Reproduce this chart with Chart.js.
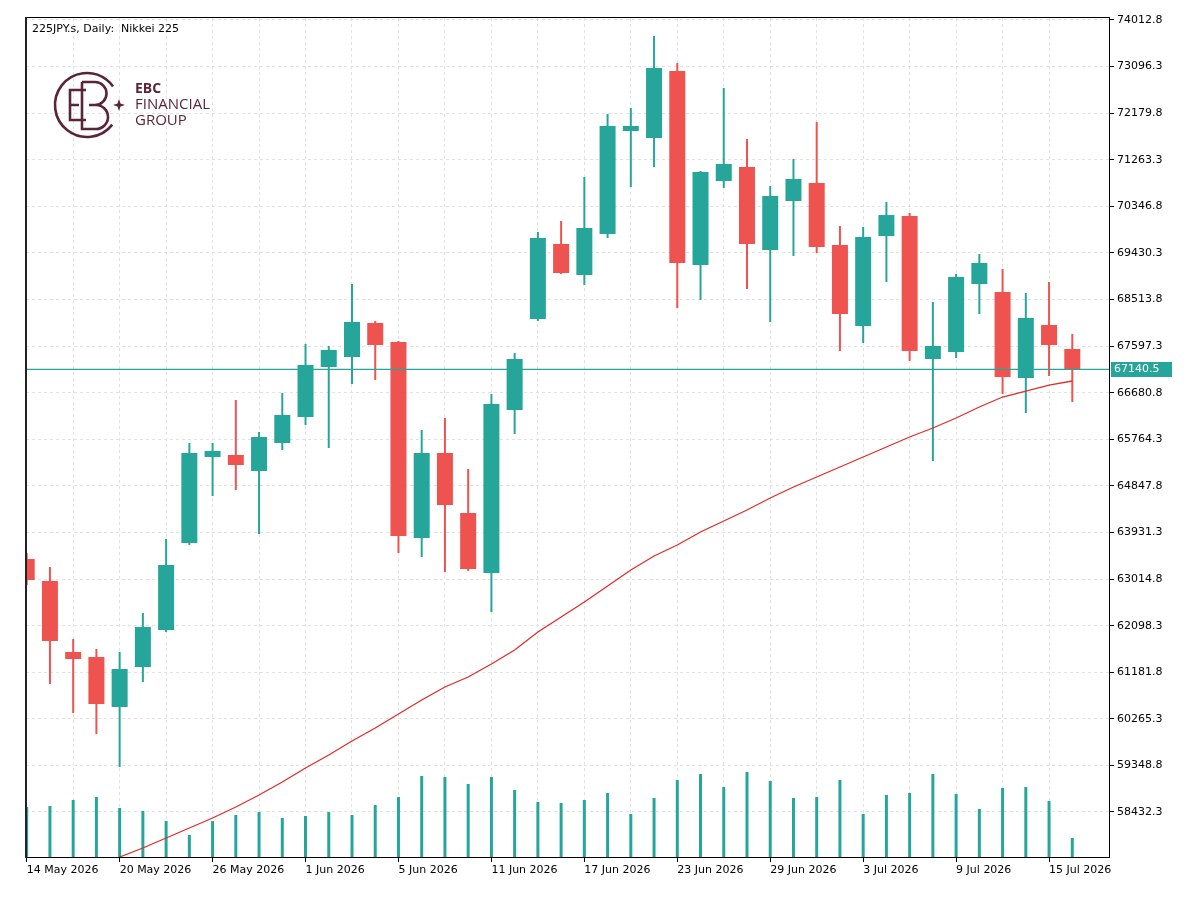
<!DOCTYPE html>
<html>
<head>
<meta charset="utf-8">
<title>225JPY.s Daily</title>
<script src="https://cdn.jsdelivr.net/npm/chart.js@4.4.1/dist/chart.umd.min.js"></script>
<style>
  html, body { margin: 0; padding: 0; background: #fff; }
  canvas { display: block; }
</style>
</head>
<body>
<canvas id="priceChart" width="1200" height="903"></canvas>
<script>
const dates = [
  "14 May 2026", "15 May 2026", "18 May 2026", "19 May 2026", "20 May 2026", "21 May 2026",
  "22 May 2026", "25 May 2026", "26 May 2026", "27 May 2026", "28 May 2026", "29 May 2026",
  "1 Jun 2026", "2 Jun 2026", "3 Jun 2026", "4 Jun 2026", "5 Jun 2026", "8 Jun 2026",
  "9 Jun 2026", "10 Jun 2026", "11 Jun 2026", "12 Jun 2026", "15 Jun 2026", "16 Jun 2026",
  "17 Jun 2026", "18 Jun 2026", "19 Jun 2026", "22 Jun 2026", "23 Jun 2026", "24 Jun 2026",
  "25 Jun 2026", "26 Jun 2026", "29 Jun 2026", "30 Jun 2026", "1 Jul 2026", "2 Jul 2026",
  "3 Jul 2026", "6 Jul 2026", "7 Jul 2026", "8 Jul 2026", "9 Jul 2026", "10 Jul 2026",
  "13 Jul 2026", "14 Jul 2026", "15 Jul 2026", "16 Jul 2026"
];

const opens = [
  63409, 62977, 61580, 61481, 60498, 61285, 62013, 63724, 65416, 65455, 65141, 65691,
  66203, 67186, 67383, 68052, 67678, 63823, 65495, 64314, 63134, 66340, 68131, 69606,
  68996, 69803, 71829, 71691, 73009, 69193, 70845, 71121, 69488, 70452, 70806, 69586,
  67993, 69763, 70157, 67344, 67481, 68819, 68662, 66970, 68013, 67541
];
const highs = [
  63527, 63252, 61836, 61639, 61580, 62347, 63803, 65691, 65691, 66537, 65908, 66675,
  67639, 67599, 68819, 68091, 67698, 65947, 66183, 65180, 66655, 67462, 69842, 70058,
  70924, 72163, 72281, 73698, 73167, 71042, 72675, 71672, 70747, 71278, 72006, 69960,
  69940, 70432, 70216, 68465, 69016, 69409, 69114, 68642, 68858, 67836
];
const lows = [
  62898, 60950, 60380, 59967, 59318, 60990, 61973, 63685, 64649, 64767, 63901, 65554,
  66045, 65593, 66852, 66931, 63527, 63449, 63154, 63173, 62367, 65868, 68091, 69016,
  68799, 69724, 70727, 71121, 68347, 68504, 70708, 68721, 68072, 69370, 69429, 67501,
  67658, 68858, 67304, 65337, 67363, 68229, 66655, 66281, 67009, 66498
];
const closes = [
  62996, 61796, 61442, 60557, 61245, 62072, 63291, 65495, 65534, 65259, 65809, 66242,
  67226, 67521, 68072, 67619, 63862, 65495, 64472, 63213, 66458, 67344, 69724, 69035,
  69921, 71927, 71927, 73068, 69232, 71022, 71180, 69606, 70550, 70885, 69547, 68229,
  69744, 70176, 67501, 67599, 68957, 69232, 66990, 68150, 67619, 67140.5
];
const maValues = [
  56760, 56937, 57134, 57350, 57547, 57724, 57921, 58118, 58314, 58531, 58767, 59023,
  59298, 59554, 59829, 60085, 60360, 60636, 60891, 61088, 61344, 61619, 61973, 62268,
  62563, 62878, 63193, 63468, 63685, 63940, 64157, 64373, 64609, 64826, 65022, 65219,
  65416, 65613, 65809, 65986, 66183, 66400, 66596, 66714, 66832, 66911
];
const volumes = [
  5000, 5100, 5700, 6000, 4900, 4600, 3600, 2200, 3600, 4200, 4500, 3900,
  4100, 4500, 4200, 5200, 6000, 8100, 8000, 7300, 8000, 6700, 5500, 5400,
  5700, 6400, 4300, 5900, 7700, 8300, 7000, 8500, 7600, 5900, 6000, 7700,
  4300, 6200, 6400, 8300, 6300, 4800, 6900, 7000, 5600, 1900
];
const yTicks = [
  58432.3, 59348.8, 60265.3, 61181.8, 62098.3, 63014.8, 63931.3, 64847.8, 65764.3,
  66680.8, 67597.3, 68513.8, 69430.3, 70346.8, 71263.3, 72179.8, 73096.3, 74012.8
];
const lastPrice = 67140.5;
const title = "225JPY.s, Daily:  Nikkei 225";

const UP = "#26a69a";
const DOWN = "#ef5350";
const GRID = "#e2e2e2";
const LOGO = "#5a2636";
const FONT = '"DejaVu Sans", Tahoma, sans-serif';

const candleColor = c => closes[c.dataIndex] >= opens[c.dataIndex] ? UP : DOWN;

const overlay = {
  id: "overlay",
  afterDraw(chart) {
    const { ctx, chartArea: a, scales: { y } } = chart;
    ctx.save();

    // frame (left edge a bit heavier, like the terminal's window border)
    ctx.strokeStyle = "#000";
    ctx.lineWidth = 1;
    ctx.strokeRect(a.left - 0.5, a.top - 0.5, a.right - a.left + 1, a.bottom - a.top + 1);
    ctx.fillStyle = "#222";
    ctx.fillRect(a.left - 1, a.top - 1, 2, a.bottom - a.top + 2);

    // title
    ctx.fillStyle = "#000";
    ctx.font = "11px " + FONT;
    ctx.textBaseline = "middle";
    ctx.textAlign = "left";
    ctx.fillText(title, 32, 29);

    // current price tag
    const py = Math.round(y.getPixelForValue(lastPrice));
    ctx.fillStyle = UP;
    ctx.fillRect(a.right + 2, py - 7, 61, 15);
    ctx.fillStyle = "#fff";
    ctx.fillText(lastPrice.toFixed(1), a.right + 5, py + 0.5);

    drawLogo(ctx);
    ctx.restore();
  }
};

function drawLogo(ctx) {
  ctx.strokeStyle = LOGO;
  ctx.fillStyle = LOGO;
  ctx.lineWidth = 2.6;
  ctx.lineJoin = "miter";

  ctx.beginPath();
  ctx.arc(87, 105, 32, 0.66, Math.PI * 2 - 0.62);
  ctx.stroke();

  // E
  ctx.beginPath();
  ctx.moveTo(86, 90); ctx.lineTo(70, 90); ctx.lineTo(70, 120); ctx.lineTo(86, 120);
  ctx.moveTo(70, 105); ctx.lineTo(79, 105);
  ctx.stroke();

  // B
  ctx.beginPath();
  ctx.moveTo(82, 82); ctx.lineTo(95, 82);
  ctx.arc(95, 93.5, 11.5, -Math.PI / 2, Math.PI / 2);
  ctx.lineTo(89, 105);
  ctx.moveTo(89, 105); ctx.lineTo(96, 105);
  ctx.arc(96, 117, 12, -Math.PI / 2, Math.PI / 2);
  ctx.lineTo(82, 129); ctx.lineTo(82, 82);
  ctx.stroke();

  // star
  const sx = 119, sy = 105;
  ctx.beginPath();
  ctx.moveTo(sx, sy - 6); ctx.lineTo(sx + 1.5, sy - 1.5); ctx.lineTo(sx + 6, sy);
  ctx.lineTo(sx + 1.5, sy + 1.5); ctx.lineTo(sx, sy + 6); ctx.lineTo(sx - 1.5, sy + 1.5);
  ctx.lineTo(sx - 6, sy); ctx.lineTo(sx - 1.5, sy - 1.5);
  ctx.closePath();
  ctx.fill();

  ctx.textBaseline = "middle";
  ctx.font = 'bold 14px "Open Sans", sans-serif';
  ctx.fillText("EBC", 135, 89);
  ctx.font = '15px "Open Sans", sans-serif';
  ctx.fillText("FINANCIAL", 135, 105);
  ctx.fillText("GROUP", 135, 121);
}

const xTickIdx = dates.map((d, i) => i).filter(i => i % 2 === 0);

new Chart(document.getElementById("priceChart"), {
  type: "bar",
  data: {
    datasets: [
      {
        type: "line",
        data: maValues.map((v, i) => ({ x: i, y: v })),
        borderColor: "#e32b2b",
        borderWidth: 1.3,
        pointRadius: 0,
        tension: 0,
        clip: 0,
        order: 0
      },
      {
        type: "line",
        data: [{ x: -1, y: lastPrice }, { x: dates.length + 2, y: lastPrice }],
        borderColor: UP,
        borderWidth: 1.2,
        pointRadius: 0,
        clip: 0,
        order: 1
      },
      {
        data: opens.map((o, i) => ({ x: i, y: [o, closes[i]] })),
        backgroundColor: candleColor,
        grouped: false,
        maxBarThickness: 16,
        minBarLength: 1,
        clip: 0,
        order: 2
      },
      {
        data: lows.map((l, i) => ({ x: i, y: [l, highs[i]] })),
        backgroundColor: candleColor,
        grouped: false,
        maxBarThickness: 2,
        clip: 0,
        order: 3
      },
      {
        data: volumes.map((v, i) => ({ x: i, y: v })),
        backgroundColor: UP,
        grouped: false,
        maxBarThickness: 3,
        yAxisID: "vol",
        clip: 0,
        order: 4
      }
    ]
  },
  options: {
    responsive: false,
    animation: false,
    layout: { padding: { left: 26, top: 18, right: 0, bottom: 0 } },
    plugins: {
      legend: { display: false },
      tooltip: { enabled: false }
    },
    scales: {
      x: {
        type: "linear",
        offset: false,
        min: -0.03,
        max: 46.58,
        afterBuildTicks: s => { s.ticks = xTickIdx.map(v => ({ value: v })); },
        afterFit: s => { s.height = 46; },
        border: { display: false, dash: [3, 3] },
        grid: {
          offset: false,
          color: GRID,
          lineWidth: 1,
          tickLength: 5,
          tickColor: c => c.tick && c.tick.value % 4 === 0 ? "#000" : "rgba(0,0,0,0)"
        },
        ticks: {
          autoSkip: false,
          maxRotation: 0,
          align: "start",
          padding: 2,
          color: "#000",
          font: { family: FONT, size: 11 },
          callback: v => v % 4 === 0 ? dates[v] : ""
        }
      },
      y: {
        position: "right",
        min: 57547,
        max: 74052,
        afterBuildTicks: s => { s.ticks = yTicks.map(v => ({ value: v })); },
        afterFit: s => { s.width = 91; },
        border: { display: false, dash: [3, 3] },
        grid: {
          color: GRID,
          lineWidth: 1,
          tickLength: 5,
          tickColor: "#000"
        },
        ticks: {
          autoSkip: false,
          padding: 3,
          color: "#000",
          font: { family: FONT, size: 11 },
          callback: v => Number(v).toFixed(1)
        }
      },
      vol: {
        display: false,
        min: 0,
        max: 83900
      }
    }
  },
  plugins: [overlay]
});
</script>
</body>
</html>
